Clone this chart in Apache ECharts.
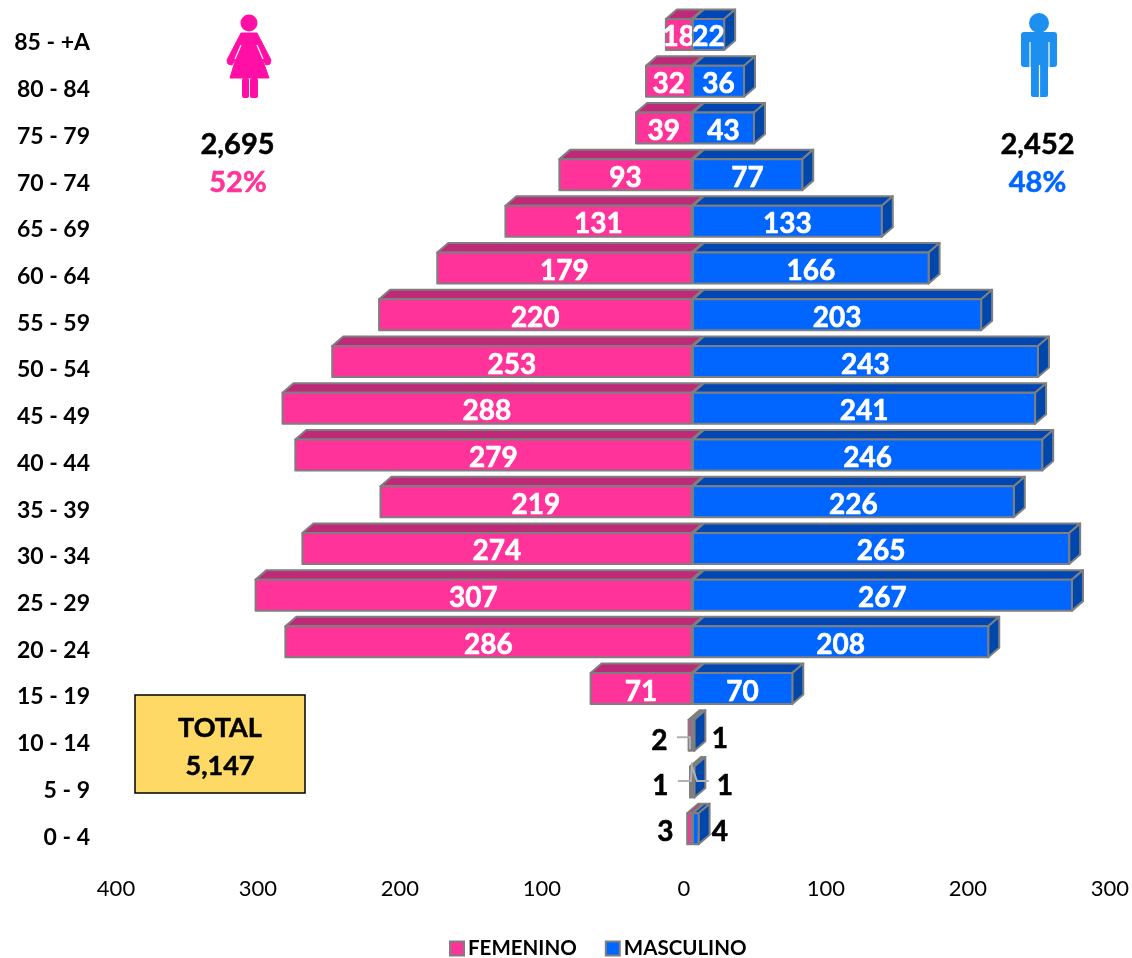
<!DOCTYPE html>
<html lang="es">
<head>
  <meta charset="UTF-8">
  <title>Pirámide de población</title>
  <style>
    html, body { margin: 0; padding: 0; background: #fff; }
  </style>
</head>
<body>
  <div id="main" style="width: 1132px;height:958px;"></div>

  <script src="https://cdn.jsdelivr.net/npm/echarts@6/dist/echarts.min.js"></script>
  <script>
    const ageGroups = ['85 - +A', '80 - 84', '75 - 79', '70 - 74', '65 - 69', '60 - 64', '55 - 59', '50 - 54', '45 - 49',
      '40 - 44', '35 - 39', '30 - 34', '25 - 29', '20 - 24', '15 - 19', '10 - 14', '5 - 9', '0 - 4'];
    const femenino = [18, 32, 39, 93, 131, 179, 220, 253, 288, 279, 219, 274, 307, 286, 71, 2, 1, 3];
    const masculino = [22, 36, 43, 77, 133, 166, 203, 243, 241, 246, 226, 265, 267, 208, 70, 1, 1, 4];
    const totalFemenino = '2,695';
    const totalMasculino = '2,452';
    const pctFemenino = '52%';
    const pctMasculino = '48%';
    const totalGeneral = '5,147';

    const FONT = 'Lato, "Open Sans", sans-serif';
    const PINK = '#FF3399', PINK_TOP = '#BE2A77';
    const BLUE = '#0066FF', BLUE_TOP = '#0047B3', BLUE_SIDE = '#0047AB';
    const EDGE = '#7F7F7F';

    // the excel 3d look: front face sits a bit right/up of the axis slot, depth goes up-right
    const SHIFT_F = 7.5, SHIFT_M = 9, SHIFT_Y = -8.5, DEPTH_X = 11, DEPTH_Y = 9.5, BAR_H = 31;

    // small bars have their labels pulled out, offsets from the bar base
    const outsideLabels = {
      15: { f: [-32, 4], m: [27, 2] },
      16: { f: [-31, 2], m: [32, 2] },
      17: { f: [-26, 1], m: [27, 1] }
    };
    const leaderLines = {
      15: [[[-16, 2], [-3, 2], [-3, 14]]],
      16: [[[-15, -1], [-2, -1], [-1, -16], [4, -1], [16, -1]]]
    };

    function drawBar(sign, colors) {
      const shift = sign > 0 ? SHIFT_M : SHIFT_F;
      return function (params, api) {
        const i = api.value(1);
        const val = Math.abs(api.value(0));
        const base = api.coord([0, i]);
        const end = api.coord([api.value(0), i]);
        const x0 = base[0] + shift;
        const x1 = end[0] + shift;
        const top = base[1] + SHIFT_Y - BAR_H / 2;
        const bottom = top + BAR_H;
        const left = Math.min(x0, x1);
        const right = Math.max(x0, x1);
        const edge = { stroke: EDGE, lineWidth: 2, lineJoin: 'round' };
        const children = [];

        // top face
        children.push({
          type: 'polygon',
          shape: { points: [[left, top], [left + DEPTH_X, top - DEPTH_Y], [right + DEPTH_X, top - DEPTH_Y], [right, top]] },
          style: Object.assign({ fill: colors.top }, edge)
        });
        // side face, only the male side shows it
        if (sign > 0) {
          children.push({
            type: 'polygon',
            shape: { points: [[right, top], [right + DEPTH_X, top - DEPTH_Y], [right + DEPTH_X, bottom - DEPTH_Y], [right, bottom]] },
            style: Object.assign({ fill: colors.side }, edge)
          });
        }
        children.push({
          type: 'rect',
          shape: { x: left, y: top, width: right - left, height: BAR_H },
          style: Object.assign({ fill: colors.front }, edge)
        });

        const cy = (top + bottom) / 2;
        const out = outsideLabels[i];
        let lx = (left + right) / 2;
        let ly = cy + 3;
        let fill = '#fff';
        if (out) {
          const o = sign < 0 ? out.f : out.m;
          lx = x0 + o[0];
          ly = cy + o[1] + 2;
          fill = '#000';
        }
        children.push({
          type: 'text',
          z2: 10,
          style: { x: lx, y: ly, text: String(val), fill: fill, stroke: fill, lineWidth: 0.6, font: 'bold 28px ' + FONT, align: 'center', verticalAlign: 'middle' }
        });

        if (sign > 0 && leaderLines[i]) {
          leaderLines[i].forEach(function (pts) {
            children.push({
              type: 'polyline',
              z2: 9,
              shape: { points: pts.map(function (p) { return [x0 + p[0], cy + p[1]]; }) },
              style: { fill: null, stroke: '#B0B0B0', lineWidth: 2 }
            });
          });
        }
        return { type: 'group', children: children };
      };
    }

    const myChart = echarts.init(document.getElementById('main'));

    const whiteLine = function (pts, w) {
      return { type: 'polyline', z: 5, shape: { points: pts }, style: { fill: null, stroke: '#fff', lineWidth: w || 1.2 } };
    };
    const FEMALE_COL = '#FF0FA5', MALE_COL = '#1C8FEF';

    const textEl = function (x, y, text, size, fill) {
      return { type: 'text', z: 6, x: x, y: y, style: { text: text, fill: fill, stroke: fill, lineWidth: 0.5, font: 'bold ' + size + 'px ' + FONT, align: 'center', verticalAlign: 'middle' } };
    };

    const options = {
      animation: false,
      backgroundColor: '#fff',
      grid: { left: 116, width: 996, top: 19.6, height: 841, containLabel: false },
      xAxis: {
        type: 'value',
        min: -400,
        max: 300,
        interval: 100,
        axisLine: { show: false },
        axisTick: { show: false },
        splitLine: { show: false },
        axisLabel: {
          margin: 17,
          color: '#000',
          fontSize: 22,
          fontFamily: FONT,
          formatter: function (v) { return String(Math.abs(v)); }
        }
      },
      yAxis: {
        type: 'category',
        inverse: true,
        data: ageGroups,
        axisLine: { show: false },
        axisTick: { show: false },
        splitLine: { show: false },
        axisLabel: {
          margin: 26,
          color: '#000',
          fontSize: 23,
          fontWeight: 'bold',
          fontFamily: FONT,
          interval: 0
        }
      },
      legend: {
        left: 444,
        top: 933,
        itemWidth: 14,
        itemHeight: 14,
        itemGap: 28,
        icon: 'rect',
        selectedMode: false,
        data: ['FEMENINO', 'MASCULINO'],
        textStyle: { color: '#000', fontSize: 20.5, fontWeight: 'bold', fontFamily: FONT, padding: [0, 0, 0, -1] }
      },
      series: [
        {
          name: 'FEMENINO',
          type: 'custom',
          clip: false,
          encode: { x: 0, y: 1 },
          itemStyle: { color: PINK, borderColor: EDGE, borderWidth: 2 },
          renderItem: drawBar(-1, { front: PINK, top: PINK_TOP }),
          data: femenino.map(function (v, i) { return [-v, i]; }),
          z: 2
        },
        {
          name: 'MASCULINO',
          type: 'custom',
          clip: false,
          encode: { x: 0, y: 1 },
          itemStyle: { color: BLUE, borderColor: EDGE, borderWidth: 2 },
          renderItem: drawBar(1, { front: BLUE, top: BLUE_TOP, side: BLUE_SIDE }),
          data: masculino.map(function (v, i) { return [v, i]; }),
          z: 3
        }
      ],
      graphic: [
        // woman icon
        { type: 'circle', z: 5, shape: { cx: 249, cy: 23, r: 8.5 }, style: { fill: FEMALE_COL } },
        {
          type: 'polygon', z: 5,
          shape: { points: [[241, 33], [257, 33], [271, 60], [270, 64], [266, 65], [262, 58], [269, 78], [230, 78], [236, 58], [232, 65], [228, 64], [227, 60]] },
          style: { fill: FEMALE_COL, stroke: FEMALE_COL, lineWidth: 1, lineJoin: 'round' }
        },
        { type: 'rect', z: 5, shape: { x: 242, y: 78, width: 7, height: 20, r: 2 }, style: { fill: FEMALE_COL } },
        { type: 'rect', z: 5, shape: { x: 250, y: 78, width: 8, height: 20, r: 2 }, style: { fill: FEMALE_COL } },
        whiteLine([[241, 45], [235, 59]]),
        whiteLine([[257, 45], [263, 59]]),
        // man icon
        { type: 'circle', z: 5, shape: { cx: 1039, cy: 23, r: 10 }, style: { fill: MALE_COL } },
        { type: 'rect', z: 5, shape: { x: 1021, y: 32, width: 36, height: 35, r: 3 }, style: { fill: MALE_COL } },
        { type: 'rect', z: 5, shape: { x: 1031, y: 60, width: 17, height: 37, r: 2 }, style: { fill: MALE_COL } },
        whiteLine([[1030, 42], [1030, 68]]),
        whiteLine([[1049, 42], [1049, 68]]),
        whiteLine([[1039.5, 65], [1039.5, 97]]),
        // totals
        textEl(237.5, 145, totalFemenino, 29, '#000'),
        textEl(238, 183, pctFemenino, 29, PINK),
        textEl(1037.5, 145, totalMasculino, 29, '#000'),
        textEl(1037.5, 183, pctMasculino, 29, BLUE),
        {
          type: 'rect', z: 5,
          shape: { x: 135, y: 695, width: 170, height: 98 },
          style: { fill: '#FFD966', stroke: '#000', lineWidth: 1.5 }
        },
        textEl(220, 728, 'TOTAL', 27, '#000'),
        textEl(220, 766, totalGeneral, 27, '#000')
      ]
    };

    myChart.setOption(options);
  </script>
</body>
</html>
